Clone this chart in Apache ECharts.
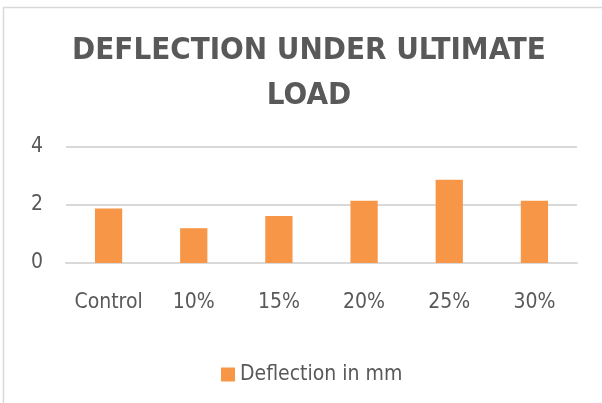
<!DOCTYPE html>
<html>
<head>
<meta charset="utf-8">
<script src="https://cdn.jsdelivr.net/npm/echarts@6/dist/echarts.min.js"></script>
<style>
  html, body { margin: 0; padding: 0; background: #fff; }
  #chart { width: 602px; height: 403px; }
</style>
</head>
<body>
<div id="chart"></div>
<script>
// 数据
const categories = ['Control', '10%', '15%', '20%', '25%', '30%'];
const deflection = [1.88, 1.2, 1.62, 2.15, 2.87, 2.15];
const yTicks = [0, 2, 4];

const font = "'Liberation Sans Narrow', 'DejaVu Sans Condensed', sans-serif";
const textColor = '#595959';

const chart = echarts.init(document.getElementById('chart'));

const option = {
  animation: false,
  backgroundColor: '#fff',
  graphic: [
    {
      type: 'rect',
      shape: { x: 3.5, y: 7.5, width: 700, height: 500 },
      style: { fill: 'none', stroke: '#d9d9d9', lineWidth: 1.5 },
      silent: true
    }
  ],
  title: {
    text: 'DEFLECTION UNDER ULTIMATE\nLOAD',
    left: 304,
    top: 23,
    textAlign: 'center',
    textStyle: {
      fontFamily: font,
      fontSize: 31,
      fontWeight: 'bold',
      color: textColor,
      lineHeight: 45
    }
  },
  legend: {
    left: 216,
    top: 359,
    itemWidth: 14,
    itemHeight: 14,
    icon: 'rect',
    textStyle: { fontFamily: font, fontSize: 21, color: textColor },
    data: ['Deflection in mm']
  },
  grid: { left: 66, right: 25, top: 147, bottom: 140 },
  xAxis: {
    type: 'category',
    data: categories,
    axisLine: { lineStyle: { color: '#d9d9d9', width: 2 } },
    axisTick: { show: false },
    axisLabel: { interval: 0, fontFamily: font, fontSize: 21, color: textColor, margin: 29 }
  },
  yAxis: {
    type: 'value',
    min: yTicks[0],
    max: yTicks[yTicks.length - 1],
    interval: 2,
    axisLine: { show: false },
    axisTick: { show: false },
    splitLine: { lineStyle: { color: '#d9d9d9', width: 2 } },
    axisLabel: { fontFamily: font, fontSize: 21, color: textColor, margin: 23 }
  },
  series: [
    {
      name: 'Deflection in mm',
      type: 'bar',
      data: deflection,
      barWidth: '32%',
      itemStyle: { color: '#F79646' }
    }
  ]
};

chart.setOption(option);
</script>
</body>
</html>
